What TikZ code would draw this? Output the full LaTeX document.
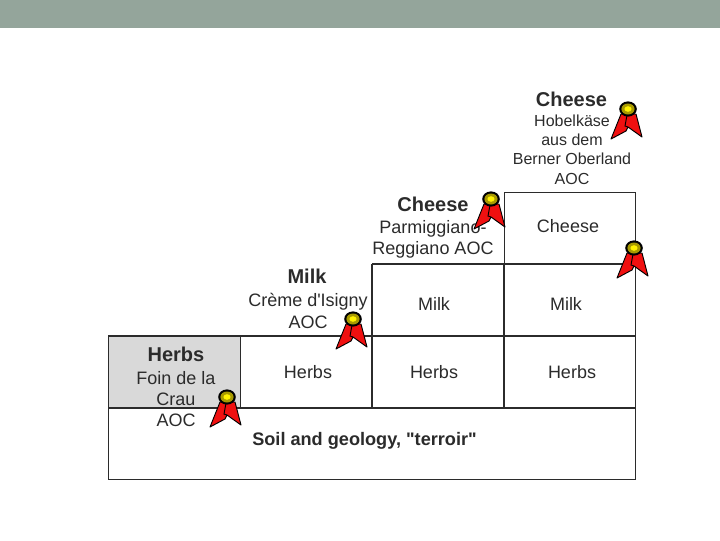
\documentclass[tikz,border=0pt]{standalone}
\usepackage{fontspec}
\setmainfont{Liberation Sans}[Ligatures=TeXOff]
\definecolor{band}{HTML}{94A59B}
\definecolor{ink}{HTML}{2B2B2B}
\definecolor{ringc}{HTML}{A89A00}
\definecolor{ribred}{HTML}{F01010}
\tikzset{
  x=0.75pt,y=-0.75pt,
  thincell/.style={draw=ink,line width=0.7pt,inner sep=0pt,outer sep=0pt,minimum width=#1*0.75pt},
  cellh/.style={minimum height=#1*0.75pt},
  inner/.style={draw=ink,line width=1.1pt},
  reg/.style={font=\fontsize{13.5pt}{16pt}\selectfont,text=ink,align=center,inner sep=0pt},
  small/.style={font=\fontsize{12pt}{14.6pt}\selectfont,text=ink,align=center,inner sep=0pt},
  hd/.style={font=\bfseries\fontsize{15pt}{18pt}\selectfont,text=ink,inner sep=0pt},
  soil/.style={font=\bfseries\fontsize{13.6pt}{16pt}\selectfont,text=ink,inner sep=0pt},
  ribbon/.pic={
    \fill[ribred,draw=black,line width=0.7pt,line join=round]
      (-7,5)--(-17,30)--(-2,22)--(0,18)--(14,28)--(8,5)--cycle;
    \draw[black,line width=0.7pt] (-1,6)--(-3,17)--(0,18);
    \fill[black] (0,0) ellipse [x radius=8.8,y radius=7.6];
    \fill[ringc] (0,0) ellipse [x radius=6.6,y radius=5.5];
    \fill[yellow] (0,0) ellipse [x radius=3.6,y radius=2.8];
  }
}
\begin{document}
\begin{tikzpicture}
\useasboundingbox (0,0) rectangle (720,540);
\fill[band] (0,0) rectangle (720,28);
% boxes
\node[thincell=527,cellh=71.5] (base) at (371.5,443.75) {};
\node[thincell=131,cellh=72] (c4) at (569.5,228) {};
\node[thincell=132.5,cellh=72,fill=black!15] (h1) at (174.25,372) {};
\node[thincell=131.5,cellh=72] (h2) at (306.25,372) {};
\node[thincell=132,cellh=72] (h3) at (438,372) {};
\node[thincell=131,cellh=72] (h4) at (569.5,372) {};
\node[thincell=132,cellh=72] (m3) at (438,300) {};
\node[thincell=131,cellh=72] (m4) at (569.5,300) {};
\draw[inner] (h1.north west) -- (h4.north east);
\draw[inner] (h1.south west) -- (h4.south east);
\draw[inner] (m3.north west) -- (m4.north east);
\draw[inner] (h1.north east) -- (h1.south east);
\draw[inner] (m3.north west) -- (m3.south west);
\draw[inner] (h3.north west) -- (h3.south west);
\draw[inner] (m3.north east) -- (m3.south east);
\draw[inner] (h3.north east) -- (h3.south east);
% texts
\node[hd] (t1) at (571.5,99) {Cheese};
\node[small] (t2) at (572,149.5) {Hobelkäse\\aus dem\\Berner Oberland\\AOC};
\node[hd] (t3) at (433,204) {Cheese};
\node[reg] (t4) at (433,239.5) {Parmiggiano-\\Reggiano AOC};
\node[reg] (t5) at (568,226) {Cheese};
\node[hd] (t6) at (307,276) {Milk};
\node[reg] (t7) at (308,311) {Crème d'Isigny\\AOC};
\node[reg] (t8) at (434,304) {Milk};
\node[reg] (t9) at (566,304) {Milk};
\node[hd] (t10) at (176,354) {Herbs};
\node[reg] (t11) at (176,399) {Foin de la\\Crau\\AOC};
\node[reg] (t12) at (308,372) {Herbs};
\node[reg] (t13) at (434,372) {Herbs};
\node[reg] (t14) at (572,372) {Herbs};
\node[soil] (t15) at (364.5,441) {Soil and geology, "terroir"};
% ribbons
\pic at (628,109) {ribbon};
\pic at (491,199) {ribbon};
\pic at (634,248) {ribbon};
\pic at (353,319) {ribbon};
\pic at (227,397) {ribbon};
\end{tikzpicture}
\end{document}
